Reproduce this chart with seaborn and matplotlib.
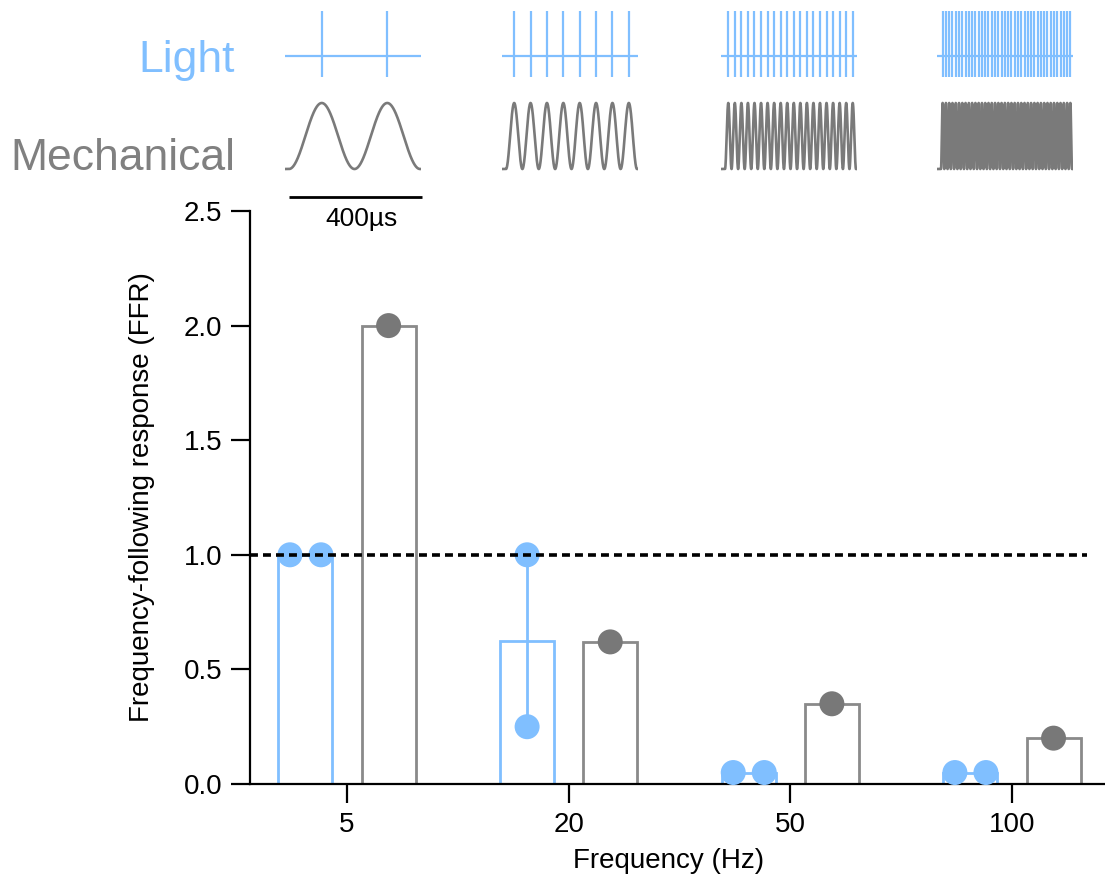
import numpy as np
import pandas as pd
import matplotlib
matplotlib.use("Agg")
import matplotlib.pyplot as plt
import seaborn as sns

# ---------------- data ----------------
freq_labels = ["5", "20", "50", "100"]
stim_freqs_hz = [5, 20, 50, 100]
stimuli = ["Light", "Mechanical"]
light_ffr = [[1.0, 1.0], [1.0, 0.25], [0.05, 0.05], [0.05, 0.05]]
mech_ffr = [[2.0], [0.62], [0.35], [0.20]]
y_ticks = [0.0, 0.5, 1.0, 1.5, 2.0, 2.5]
ffr_reference = 1.0
scale_bar_ms = 400
scale_label = "400µs"
x_label = "Frequency (Hz)"
y_label = "Frequency-following response (FFR)"

# ---------------- style ----------------
LIGHT = "#80BFFF"
MECH_BAR = "#8A8A8A"
MECH_WAVE = "#7A7A7A"
MECH_PT = "#787878"
MECH_TXT = "#808080"

sns.set_style("ticks")
plt.rcParams["font.family"] = ["Liberation Sans", "DejaVu Sans"]

rows = []
for i, (lv, mv) in enumerate(zip(light_ffr, mech_ffr)):
    for v in lv:
        rows.append({"pos": i, "Stimulus": "Light", "FFR": v})
    for v in mv:
        rows.append({"pos": i, "Stimulus": "Mechanical", "FFR": v})
df = pd.DataFrame(rows)

W, H = 1105, 881
fig = plt.figure(figsize=(W / 100, H / 100), dpi=100)


def px_rect(x0, y0, x1, y1):
    """pixel box (top-left origin) -> figure fraction rect"""
    return [x0 / W, 1 - y1 / H, (x1 - x0) / W, (y1 - y0) / H]


# ---------------- main chart ----------------
ax = fig.add_axes(px_rect(250, 211, 1105, 784))
bar_width = 0.75
sns.barplot(data=df, x="pos", y="FFR", hue="Stimulus", hue_order=stimuli,
            palette={"Light": LIGHT, "Mechanical": MECH_BAR},
            native_scale=True, orient="x", width=bar_width, gap=0.35,
            fill=False, linewidth=2.0, errorbar="se",
            err_kws={"color": LIGHT, "linewidth": 2.0},
            legend=False, ax=ax)

# individual points (spread horizontally when values coincide)
offsets = {s: (k - (len(stimuli) - 1) / 2) * bar_width / len(stimuli)
           for k, s in enumerate(stimuli)}
spread = 0.07
pts = []
for (pos, stim), g in df.groupby(["pos", "Stimulus"]):
    vals = g["FFR"].to_numpy()
    for v in np.unique(vals):
        n = int((vals == v).sum())
        for j in range(n):
            pts.append({"x": pos + offsets[stim] + (j - (n - 1) / 2) * 2 * spread,
                        "FFR": v, "Stimulus": stim})
pts = pd.DataFrame(pts)
sns.scatterplot(data=pts, x="x", y="FFR", hue="Stimulus", hue_order=stimuli,
                palette={"Light": LIGHT, "Mechanical": MECH_PT},
                s=18 ** 2, linewidth=0, legend=False, clip_on=False,
                zorder=4, ax=ax)

ax.axhline(ffr_reference, xmin=0, xmax=(1087 - 250) / 855, color="black",
           lw=2.6, ls=(0, (2.2, 1.4)), zorder=5)

ax.set_xlim(-97 / 221.6, 3 + 93 / 221.6)
ax.set_ylim(0, 2.5)
ax.set_xticks(range(len(freq_labels)), freq_labels)
ax.set_yticks(y_ticks, [f"{t:.1f}" for t in y_ticks])
sns.despine(ax=ax)
ax.spines["left"].set_bounds(0, 2.5)
for s in ["left", "bottom"]:
    ax.spines[s].set_linewidth(1.6)
    ax.spines[s].set_color("black")
ax.tick_params(axis="both", length=14, width=1.6, color="black",
               labelsize=20, pad=6, direction="out", labelcolor="black")
ax.set_xlabel(x_label, fontsize=20, color="black")
ax.set_ylabel(y_label, fontsize=20, color="black")
ax.xaxis.set_label_coords(0.489, -0.112)
ax.yaxis.set_label_coords(-0.111, 0.5)

# ---------------- stimulus schematics ----------------
t0_px = [289, 506, 725, 941]
px_per_ms = 131 / scale_bar_ms
pre_ms, post_ms = 12, 3
for k, (f, x0) in enumerate(zip(stim_freqs_hz, t0_px)):
    cax = fig.add_axes(px_rect(x0 - pre_ms * px_per_ms, 0,
                               x0 + (scale_bar_ms + post_ms) * px_per_ms, 240))
    cax.set_xlim(-pre_ms, scale_bar_ms + post_ms)
    cax.set_ylim(240, 0)
    cax.axis("off")
    n_cycles = int(round(f * scale_bar_ms / 1000))
    spikes = (np.arange(n_cycles) + 0.5) * 1000 / f
    cax.hlines(56, -pre_ms, scale_bar_ms + post_ms, color=LIGHT, lw=1.6)
    cax.vlines(spikes, 11, 77, color=LIGHT, lw=1.6)
    t = np.linspace(-pre_ms, scale_bar_ms + post_ms, 6000)
    phase = np.clip(t, 0, scale_bar_ms)
    wave = 0.5 * (1 - np.cos(2 * np.pi * f * phase / 1000))
    cax.plot(t, 169 - 66 * wave, color=MECH_WAVE, lw=1.9)
    if k == 0:
        cax.hlines(197, 0, 133 / px_per_ms, color="black", lw=2.0,
                   clip_on=False)
        cax.text(222, 226, scale_label, ha="center", va="baseline",
                 fontsize=19, color="black", clip_on=False)

fig.text(235 / W, 1 - 72 / H, "Light", ha="right", va="baseline",
         fontsize=32, color=LIGHT)
fig.text(235 / W, 1 - 170 / H, "Mechanical", ha="right", va="baseline",
         fontsize=32, color=MECH_TXT)

fig.savefig("out.png", dpi=100)
